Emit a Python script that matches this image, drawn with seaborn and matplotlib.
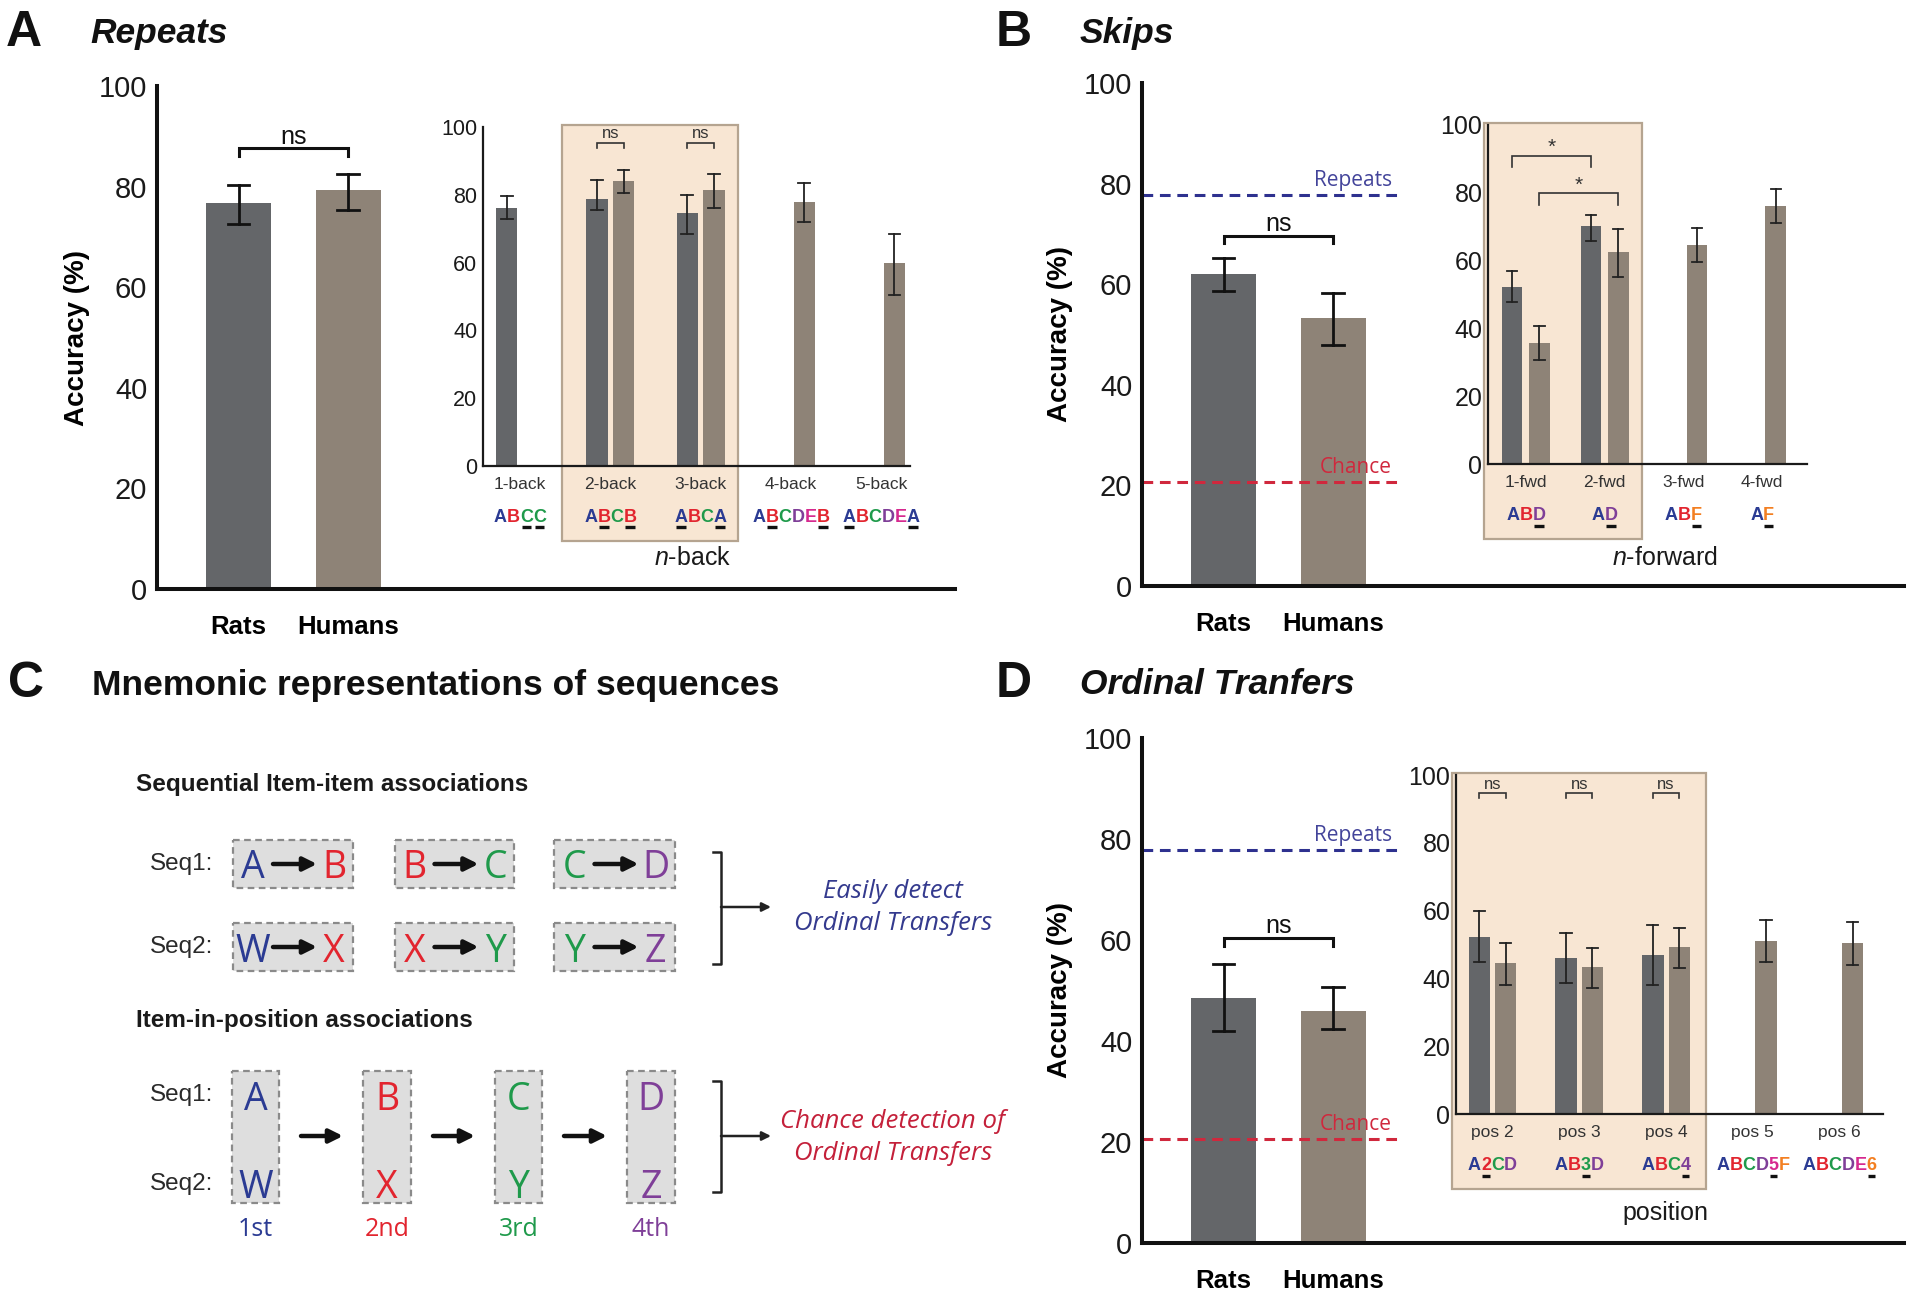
import numpy as np
import pandas as pd
import seaborn as sns
import matplotlib.pyplot as plt
import matplotlib.transforms as mtrans
from matplotlib.patches import Rectangle
from matplotlib.lines import Line2D
from matplotlib.font_manager import FontProperties

plt.rcParams['font.family'] = ['Liberation Sans', 'DejaVu Sans']
plt.rcParams['mathtext.fontset'] = 'custom'
plt.rcParams['mathtext.it'] = 'Liberation Sans:italic'
plt.rcParams['mathtext.rm'] = 'Liberation Sans'

nan = np.nan
groups = ["Rats", "Humans"]

# A - repeats
rep_val = [76.7, 79.3]
rep_lo = [72.6, 75.3]
rep_hi = [80.3, 82.6]
nback_cats = ["1-back", "2-back", "3-back", "4-back", "5-back"]
nback_codes = ["ABCC", "ABCB", "ABCA", "ABCDEB", "ABCDEA"]
nback_marks = [(2, 3), (1, 3), (0, 3), (1, 5), (0, 5)]
nback_rats_val = [76.1, 78.7, 74.5, nan, nan]
nback_rats_lo = [73.0, 75.4, 68.3, nan, nan]
nback_rats_hi = [79.7, 84.3, 79.9, nan, nan]
nback_hum_val = [nan, 84.0, 81.5, 77.9, 59.9]
nback_hum_lo = [nan, 80.5, 76.2, 71.9, 50.5]
nback_hum_hi = [nan, 87.2, 86.1, 83.6, 68.4]

# B - skips
skip_val = [62.0, 53.2]
skip_lo = [58.7, 48.0]
skip_hi = [65.3, 58.2]
fwd_cats = ["1-fwd", "2-fwd", "3-fwd", "4-fwd"]
fwd_codes = ["ABD", "AD", "ABF", "AF"]
fwd_marks = [(2,), (1,), (2,), (1,)]
fwd_rats_val = [52.1, 70.2, nan, nan]
fwd_rats_lo = [47.7, 65.8, nan, nan]
fwd_rats_hi = [56.9, 73.5, nan, nan]
fwd_hum_val = [35.8, 62.4, 64.6, 76.0]
fwd_hum_lo = [30.8, 55.3, 59.5, 71.0]
fwd_hum_hi = [40.6, 69.3, 69.5, 81.0]

# D - ordinal transfers
ord_val = [48.6, 46.0]
ord_lo = [41.9, 42.3]
ord_hi = [55.2, 50.6]
pos_cats = ["pos 2", "pos 3", "pos 4", "pos 5", "pos 6"]
pos_codes = ["A2CD", "AB3D", "ABC4", "ABCD5F", "ABCDE6"]
pos_marks = [(1,), (2,), (3,), (4,), (5,)]
pos_rats_val = [52.3, 46.0, 47.0, nan, nan]
pos_rats_lo = [44.8, 38.5, 38.2, nan, nan]
pos_rats_hi = [59.9, 53.4, 55.8, nan, nan]
pos_hum_val = [44.4, 43.3, 49.2, 51.0, 50.3]
pos_hum_lo = [38.2, 37.2, 43.1, 44.8, 44.1]
pos_hum_hi = [50.3, 48.9, 55.0, 57.1, 56.5]

repeats_level = 77.8
chance_level = 20.6

# colours
RAT = "#646669"
HUM = "#8e8377"
PAL = {"Rats": RAT, "Humans": HUM}
BOX_FC = "#f8e6d3"
BOX_EC = "#b5a490"
LET = {"A": "#2b3b93", "B": "#e2252f", "C": "#1f9a4b", "D": "#7f3f98",
       "E": "#d6298f", "F": "#f37f21", "W": "#2b3b93", "X": "#e2252f",
       "Y": "#1f9a4b", "Z": "#7f3f98"}
REP_C = "#2e318f"
CH_C = "#d0283d"

W, H = 1920, 1296
fig = plt.figure(figsize=(W / 100, H / 100), dpi=100)


def px_axes(l, t, r, b):
    return fig.add_axes([l / W, 1 - b / H, (r - l) / W, (b - t) / H])


def long_frame(cats, series):
    rows = []
    for grp, (val, lo, hi) in series.items():
        for c, v, l, h in zip(cats, val, lo, hi):
            if np.isnan(v):
                continue
            for a in (l, v, h):
                rows.append({"cat": c, "group": grp, "acc": a})
    return pd.DataFrame(rows)


def letter_color(ch):
    if ch.isdigit():
        return LET[chr(ord("A") + int(ch) - 1)]
    return LET[ch]


def seq_label(ax, x, code, marks, fs=13, dy=52):
    fp = FontProperties(family="Liberation Sans", weight="bold", size=fs)
    r = fig.canvas.get_renderer()

    def wpx(s):
        return r.get_text_width_height_descent(s, fp, ismath=False)[0] if s else 0.0

    total = wpx(code)
    trans = fig.dpi_scale_trans + mtrans.ScaledTranslation(x, 0, ax.transData)
    for i, ch in enumerate(code):
        x0 = (-total / 2 + wpx(code[:i])) / fig.dpi
        cw = wpx(ch) / fig.dpi
        ax.text(x0, -dy / fig.dpi, ch, transform=trans, color=letter_color(ch),
                fontproperties=fp, ha="left", va="center", clip_on=False)
        if i in marks:
            ax.add_artist(Line2D([x0 + 0.12 * cw, x0 + 0.88 * cw], [-(dy + 9.5) / fig.dpi] * 2,
                                 transform=trans, color="#111111", lw=2.4,
                                 solid_capstyle="butt", clip_on=False))


def bracket(ax, x0, x1, y, leg, text, fs, lw, color, tdy, family=None):
    ax.plot([x0, x0, x1, x1], [y - leg, y, y, y - leg], color=color, lw=lw,
            clip_on=False, solid_joinstyle="miter")
    kw = {"family": family} if family else {}
    ax.text((x0 + x1) / 2, y + tdy, text, ha="center", va="center",
            fontsize=fs, color=color, **kw)


def main_panel(rect, val, lo, hi, xlim, label_x):
    ax = px_axes(*rect)
    df = long_frame(groups, {"x": (val, lo, hi)})
    df["group"] = df["cat"]
    sns.barplot(data=df, x="group", y="acc", hue="group", order=groups,
                hue_order=groups, palette=PAL, estimator="median",
                errorbar=("pi", 100), capsize=0.2,
                err_kws={"color": "#111111", "linewidth": 2.0},
                width=0.594, saturation=1, legend=False, ax=ax)
    ax.set_xlim(*xlim)
    ax.set_ylim(0, 100)
    ax.set_yticks(range(0, 101, 20))
    ax.set_facecolor("none")
    sns.despine(ax=ax)
    for s in ["left", "bottom"]:
        ax.spines[s].set_linewidth(2.9)
        ax.spines[s].set_color("#111111")
    ax.tick_params(axis="y", length=0, labelsize=21, pad=7, labelcolor="#1a1a1a")
    ax.tick_params(axis="x", length=0, pad=19)
    for lab in ax.get_xticklabels():
        lab.set_fontweight("bold")
        lab.set_fontsize(18.5)
    ax.set_xlabel("")
    ax.set_ylabel("Accuracy (%)", fontsize=20, fontweight="bold")
    ax.yaxis.set_label_coords(label_x, 0.5)
    return ax


def inset_panel(rect, cats, codes, marks, rats, hum, xlim, width, gap, box,
                tick_fs, xlabel, xlabel_xy):
    ax = px_axes(*rect)
    df = long_frame(cats, {"Rats": rats, "Humans": hum})
    sns.barplot(data=df, x="cat", y="acc", hue="group", order=cats,
                hue_order=groups, palette=PAL, estimator="median",
                errorbar=("pi", 100), capsize=0.26, dodge=True,
                err_kws={"color": "#222222", "linewidth": 1.3},
                width=width, gap=gap, saturation=1, legend=False, ax=ax)
    ax.set_xlim(*xlim)
    ax.set_ylim(0, 100)
    ax.set_yticks(range(0, 101, 20))
    ax.set_facecolor("none")
    ax.add_patch(Rectangle((box[0], -22), box[1] - box[0], 122.6, fc=BOX_FC,
                           ec=BOX_EC, lw=1.6, zorder=0, clip_on=False))
    sns.despine(ax=ax)
    for s in ["left", "bottom"]:
        ax.spines[s].set_linewidth(1.6)
        ax.spines[s].set_color("#1a1a1a")
    ax.tick_params(axis="y", length=0, labelsize=tick_fs, pad=4, labelcolor="#1a1a1a")
    ax.tick_params(axis="x", length=0, pad=8, labelsize=12.5, labelcolor="#333333")
    ax.set_xlabel("")
    ax.set_ylabel("")
    for i, (code, mk) in enumerate(zip(codes, marks)):
        seq_label(ax, i, code, mk)
    ax.text(xlabel_xy[0], xlabel_xy[1], xlabel, transform=ax.transAxes,
            ha="center", va="center", fontsize=18, color="#1a1a1a")
    return ax


def ref_lines(ax):
    ax.axhline(repeats_level, xmax=0.341, color=REP_C, lw=2.2, ls=(0, (3.5, 2.2)))
    ax.axhline(chance_level, xmax=0.341, color=CH_C, lw=2.2, ls=(0, (3.5, 2.2)))
    tr = mtrans.blended_transform_factory(ax.transAxes, ax.transData)
    ax.text(0.328, repeats_level + 2.8, "Repeats", transform=tr, ha="right",
            va="center", color="#43449a", fontsize=15, family="Open Sans")
    ax.text(0.328, chance_level + 2.9, "Chance", transform=tr, ha="right",
            va="center", color=CH_C, fontsize=15, family="Open Sans")


# background axes for free text and the diagram
bg = px_axes(0, 0, W, H)
bg.set_xlim(0, W)
bg.set_ylim(H, 0)
bg.axis("off")

# panel headings
for x, y, letter, title, style in [(6, 33, "A", "Repeats", "italic"),
                                   (996, 33, "B", "Skips", "italic"),
                                   (8, 684, "C", "Mnemonic representations of sequences", "normal"),
                                   (996, 684, "D", "Ordinal Tranfers", "italic")]:
    bg.text(x, y, letter, fontsize=36, fontweight="bold", va="center", color="#111111")
    bg.text(x + 84, y + 1, title, fontsize=25.5, fontweight="bold", style=style,
            va="center", color="#111111")

# ---- panel A ----
axA = main_panel((157, 86, 955, 589), rep_val, rep_lo, rep_hi, (-0.744, 6.54), -0.084)
bracket(axA, 0, 1, 87.6, 1.6, "ns", 18, 2.2, "#111111", 2.3)
insA = inset_panel((483, 127, 910, 466), nback_cats, nback_codes, nback_marks,
                   (nback_rats_val, nback_rats_lo, nback_rats_hi),
                   (nback_hum_val, nback_hum_lo, nback_hum_hi),
                   (-0.41, 4.32), 0.59, 0.2, (0.47, 2.42), 15.5, r"$n$-back", (0.49, -0.271))
offA = 0.59 / 4
for c in (1, 2):
    bracket(insA, c - offA, c + offA, 95.3, 1.4, "ns", 12, 1.2, "#333333", 2.9)

# ---- panel B ----
axB = main_panel((1142, 83, 1904, 586), skip_val, skip_lo, skip_hi, (-0.744, 6.21), -0.0906)
ref_lines(axB)
bracket(axB, 0, 1, 69.6, 1.4, "ns", 18, 2.2, "#111111", 2.4)
insB = inset_panel((1488, 125, 1807, 464), fwd_cats, fwd_codes, fwd_marks,
                   (fwd_rats_val, fwd_rats_lo, fwd_rats_hi),
                   (fwd_hum_val, fwd_hum_lo, fwd_hum_hi),
                   (-0.48, 3.57), 0.694, 0.245, (-0.53, 1.48), 18, r"$n$-forward", (0.555, -0.277))
offB = 0.694 / 4
bracket(insB, 0 - offB, 1 - offB, 90.9, 3.2, "*", 15, 1.2, "#333333", 2.4)
bracket(insB, 0 + offB, 1 + offB, 79.8, 3.4, "*", 15, 1.2, "#333333", 2.4)

# ---- panel D ----
axD = main_panel((1142, 738, 1904, 1243), ord_val, ord_lo, ord_hi, (-0.744, 6.21), -0.0906)
ref_lines(axD)
bracket(axD, 0, 1, 60.3, 1.4, "ns", 18, 2.2, "#111111", 2.4)
insD = inset_panel((1456, 775, 1883, 1114), pos_cats, pos_codes, pos_marks,
                   (pos_rats_val, pos_rats_lo, pos_rats_hi),
                   (pos_hum_val, pos_hum_lo, pos_hum_hi),
                   (-0.42, 4.5), 0.608, 0.19, (-0.47, 2.46), 18, "position", (0.49, -0.292))
offD = 0.608 / 4
for c in (0, 1, 2):
    bracket(insD, c - offD, c + offD, 94.6, 1.3, "ns", 12, 1.2, "#333333", 2.6)

# ---- panel C diagram ----
seq_rows = [["A", "B", "C", "D"], ["W", "X", "Y", "Z"]]
ordinals = ["1st", "2nd", "3rd", "4th"]
pair_rows_y = [864, 947]
pair_boxes_x = [(233, 353), (395, 514), (554, 675)]
col_boxes_x = [(232, 279), (363, 411), (495, 542), (627, 675)]
col_rows_y = [1095, 1184]
box_kw = dict(fc="#dedede", ec="#8a8a8a", lw=1.6, ls=(0, (3, 2)))
big_kw = dict(fontsize=27, family="Open Sans", ha="center", va="center_baseline")
arrow_kw = dict(arrowstyle="-|>", color="#111111", lw=3.2, mutation_scale=20,
                shrinkA=0, shrinkB=0)

bg.text(136, 784, "Sequential Item-item associations", fontsize=17.5,
        fontweight="bold", va="center", color="#1a1a1a")
bg.text(136, 1020, "Item-in-position associations", fontsize=17.5,
        fontweight="bold", va="center", color="#1a1a1a")

for r, y in enumerate(pair_rows_y):
    bg.text(150, y, f"Seq{r + 1}:", fontsize=17.5, va="center", color="#2a2a2a")
    for k, (x0, x1) in enumerate(pair_boxes_x):
        bg.add_patch(Rectangle((x0, y - 24), x1 - x0, 48, **box_kw))
        xc = (x0 + x1) / 2
        a, b = seq_rows[r][k], seq_rows[r][k + 1]
        bg.text(xc - 40, y, a, color=LET[a], **big_kw)
        bg.text(xc + 41, y, b, color=LET[b], **big_kw)
        bg.annotate("", xy=(xc + 24, y), xytext=(xc - 20, y), arrowprops=arrow_kw)

for r, y in enumerate(col_rows_y):
    bg.text(150, y, f"Seq{r + 1}:", fontsize=17.5, va="center", color="#2a2a2a")
for k, (x0, x1) in enumerate(col_boxes_x):
    bg.add_patch(Rectangle((x0, 1071), x1 - x0, 132, **box_kw))
    xc = (x0 + x1) / 2
    for r, y in enumerate(col_rows_y):
        ch = seq_rows[r][k]
        bg.text(xc, y, ch, color=LET[ch], **big_kw)
    bg.text(xc, 1230, ordinals[k], color=LET[seq_rows[0][k]], fontsize=18,
            family="Open Sans", ha="center", va="center")
    if k < 3:
        nx = col_boxes_x[k + 1][0]
        bg.annotate("", xy=(nx - 20, 1136), xytext=(x1 + 22, 1136), arrowprops=arrow_kw)

for (y0, y1, ym), lines, col in [((852, 964, 907), ("Easily detect", "Ordinal Transfers"), "#343a8e"),
                                  ((1081, 1192, 1136), ("Chance detection of", "Ordinal Transfers"), "#c4203a")]:
    bg.plot([713, 721, 721, 713], [y0, y0, y1, y1], color="#222222", lw=1.8)
    bg.annotate("", xy=(771, ym), xytext=(721, ym),
                arrowprops=dict(arrowstyle="-|>", color="#222222", lw=1.8,
                                mutation_scale=13, shrinkA=0, shrinkB=0))
    bg.text(893, ym - 15, lines[0], color=col, fontsize=18.5, style="italic",
            family="Open Sans", ha="center", va="center")
    bg.text(893, ym + 17, lines[1], color=col, fontsize=18.5, style="italic",
            family="Open Sans", ha="center", va="center")

fig.savefig("out.png", dpi=100)
